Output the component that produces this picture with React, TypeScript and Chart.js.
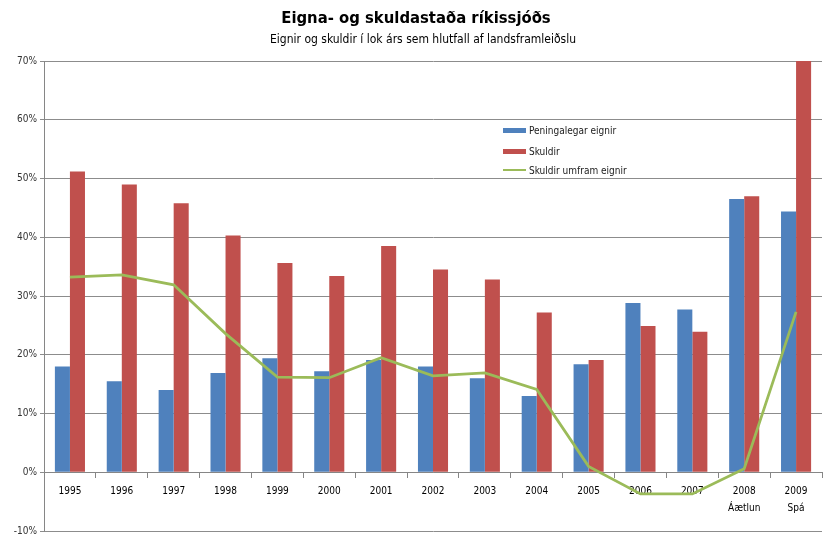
import React, { useEffect, useRef } from "react";
import { Chart, registerables } from "chart.js";

Chart.register(...registerables);

const categories: (string | string[])[] = [
  "1995", "1996", "1997", "1998", "1999", "2000", "2001", "2002",
  "2003", "2004", "2005", "2006", "2007", ["2008", "Áætlun"], ["2009", "Spá"],
];
const peningalegarEignir = [18.0, 15.5, 14.0, 16.9, 19.4, 17.2, 19.1, 18.0, 16.0, 13.0, 18.4, 28.8, 27.7, 46.5, 44.4];
const skuldir = [51.2, 49.0, 45.8, 40.3, 35.6, 33.4, 38.5, 34.5, 32.8, 27.2, 19.1, 24.9, 23.9, 47.0, 71.7];
const skuldirUmfram = [33.2, 33.6, 31.9, 23.6, 16.2, 16.1, 19.5, 16.4, 16.9, 14.1, 1.0, -3.7, -3.7, 0.6, 27.3];
const yMin = -10;
const yMax = 70;
const yStep = 10;

const seriesNames = ["Peningalegar eignir", "Skuldir", "Skuldir umfram eignir"];
const colors = ["#4F81BD", "#C0504D", "#9BBB59"];

const FONT = '"Liberation Sans Narrow", "DejaVu Sans Condensed", "Open Sans", sans-serif';

export default function App() {
  const ref = useRef<HTMLCanvasElement | null>(null);

  useEffect(() => {
    document.body.style.margin = "0";
    if (!ref.current) return;
    const chart = new Chart(ref.current, {
      type: "bar",
      data: {
        labels: categories,
        datasets: [
          {
            type: "line",
            label: seriesNames[2],
            data: skuldirUmfram,
            borderColor: colors[2],
            backgroundColor: colors[2],
            borderWidth: 2.75,
            pointRadius: 0,
            tension: 0,
            order: 0,
          } as any,
          {
            type: "bar",
            label: seriesNames[0],
            data: peningalegarEignir,
            backgroundColor: colors[0],
            categoryPercentage: 0.58,
            barPercentage: 1,
            order: 1,
          },
          {
            type: "bar",
            label: seriesNames[1],
            data: skuldir,
            backgroundColor: colors[1],
            categoryPercentage: 0.58,
            barPercentage: 1,
            order: 1,
          },
        ],
      },
      options: {
        animation: false,
        responsive: false,
        maintainAspectRatio: false,
        devicePixelRatio: 1,
        layout: { padding: { left: 0, right: 12, top: 61, bottom: 11 } },
        plugins: {
          legend: { display: false },
          title: { display: false },
          tooltip: { enabled: false },
        },
        scales: {
          x: {
            position: { y: 0 } as any,
            grid: {
              display: true,
              drawOnChartArea: false,
              drawTicks: true,
              tickLength: 5,
              color: "#868686",
              offset: true,
            },
            border: { display: true, color: "#868686", width: 1 },
            ticks: {
              color: "#000000",
              font: { family: FONT, size: 10, lineHeight: 1.7 },
              padding: 6,
              maxRotation: 0,
              autoSkip: false,
            },
          },
          y: {
            min: yMin,
            max: yMax,
            afterFit: (s: any) => {
              s.width = 44;
            },
            grid: {
              color: "#8c8c8c",
              tickLength: 4,
              drawTicks: true,
            },
            border: { display: true, color: "#868686", width: 1 },
            ticks: {
              stepSize: yStep,
              color: "#333333",
              padding: 3,
              font: { family: FONT, size: 10 },
              callback: (v: any) => `${v}%`,
            },
          },
        },
      },
    });
    return () => chart.destroy();
  }, []);

  const legendRow = (i: number, top: number) => (
    <div
      key={i}
      style={{
        position: "absolute",
        left: 503,
        top,
        height: 12,
        display: "flex",
        alignItems: "center",
        fontFamily: FONT,
        fontSize: 10,
        color: "#1a1a1a",
        whiteSpace: "nowrap",
      }}
    >
      <span
        style={{
          display: "inline-block",
          width: 23,
          height: i === 2 ? 2 : 5,
          background: colors[i],
          marginRight: 3,
        }}
      />
      {seriesNames[i]}
    </div>
  );

  return (
    <div style={{ position: "relative", width: 834, height: 542, background: "#fff" }}>
      <canvas ref={ref} width={834} height={542} style={{ display: "block" }} />
      <div
        style={{
          position: "absolute",
          left: 0,
          top: 8,
          width: 832,
          textAlign: "center",
          fontFamily: FONT,
          fontWeight: "bold",
          fontSize: 16.5,
          color: "#000",
        }}
      >
        Eigna- og skuldastaða ríkissjóðs
      </div>
      <div
        style={{
          position: "absolute",
          left: 0,
          top: 32,
          width: 846,
          textAlign: "center",
          fontFamily: FONT,
          fontSize: 12,
          color: "#000",
        }}
      >
        Eignir og skuldir í lok árs sem hlutfall af landsframleiðslu
      </div>
      {legendRow(0, 124)}
      {legendRow(1, 145)}
      {legendRow(2, 164)}
    </div>
  );
}
